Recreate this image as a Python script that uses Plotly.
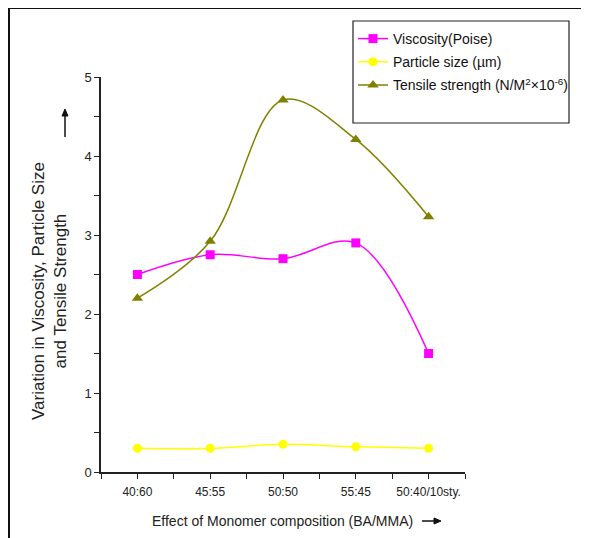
import math
import plotly.graph_objects as go

categories = ["40:60", "45:55", "50:50", "55:45", "50:40/10sty."]
viscosity = [2.5, 2.75, 2.7, 2.9, 1.5]
particle_size = [0.30, 0.30, 0.35, 0.32, 0.30]
tensile = [2.2, 2.92, 4.71, 4.21, 3.23]
y_ticks = [0, 1, 2, 3, 4, 5]

# target plot area in screenshot pixels; page body adds an 8px offset
W, H = 589, 538
OFF = 8
L, R, T, B = 101, 465, 77, 472
pw, ph = R - L, B - T

def px(x):
    return (x - L) / pw

def py(y):
    return (B - y) / ph

xpos = list(range(len(categories)))
FONT = "Liberation Sans, Arial"

fig = go.Figure()
fig.add_trace(go.Scatter(
    x=xpos, y=viscosity, name="Viscosity(Poise)", mode="lines+markers",
    line=dict(color="#FF00FF", width=1.5, shape="spline", smoothing=1),
    marker=dict(symbol="square", size=9, color="#FF00FF"), legendgroup="a"))
fig.add_trace(go.Scatter(
    x=xpos, y=particle_size, name="Particle size (µm)", mode="lines+markers",
    line=dict(color="#FFFF00", width=1.5, shape="spline", smoothing=1),
    marker=dict(symbol="circle", size=9, color="#FFFF00"), legendgroup="b"))
fig.add_trace(go.Scatter(
    x=xpos, y=tensile, name="Tensile strength (N/M<sup>2</sup>×10<sup>-6</sup>)",
    mode="lines+markers",
    line=dict(color="#808000", width=1.5, shape="spline", smoothing=1),
    marker=dict(symbol="triangle-up", size=10, color="#808000"), legendgroup="c"))

fig.update_layout(
    width=W, height=H,
    margin=dict(l=L - OFF, r=W - (R - OFF), t=T - OFF, b=H - (B - OFF),
                autoexpand=False),
    paper_bgcolor="white", plot_bgcolor="white",
    font=dict(family=FONT, size=12, color="#222"),
    xaxis=dict(range=[-0.5, 4.5], tickvals=xpos, ticktext=categories,
               showgrid=False, zeroline=False, showline=True, linecolor="#222",
               linewidth=1.5, ticks="outside", ticklen=5, tickcolor="#222",
               tickfont=dict(size=12), automargin=False, ticklabelstandoff=3,
               minor=dict(tick0=0.5, dtick=1, ticks="outside", ticklen=5,
                          tickcolor="#222", showgrid=False)),
    yaxis=dict(range=[0, 5], tickvals=y_ticks, showgrid=False, zeroline=False,
               showline=True, linecolor="#222", linewidth=1.5, ticks="outside",
               ticklen=5, tickcolor="#222", tickfont=dict(size=13),
               automargin=False,
               minor=dict(dtick=0.5, ticks="outside", ticklen=5,
                          tickcolor="#222", showgrid=False)),
    legend=dict(x=px(353), y=py(23), xanchor="left", yanchor="top",
                bgcolor="rgba(0,0,0,0)", borderwidth=0,
                font=dict(size=14, family=FONT, color="#111"),
                traceorder="grouped", tracegroupgap=2),
    showlegend=True,
)

def arrow_shapes(x0, y0, x1, y1):
    # line from (x0,y0) to head at (x1,y1), pixel coords
    dx, dy = x1 - x0, y1 - y0
    n = math.hypot(dx, dy)
    ux, uy = dx / n, dy / n
    hl, hw = 7, 3
    bx, by = x1 - ux * hl, y1 - uy * hl
    p1 = (bx - uy * hw, by + ux * hw)
    p2 = (bx + uy * hw, by - ux * hw)
    path = "M {} {} L {} {} L {} {} Z".format(
        px(x1), py(y1), px(p1[0]), py(p1[1]), px(p2[0]), py(p2[1]))
    return [
        dict(type="line", xref="paper", yref="paper", x0=px(x0), y0=py(y0),
             x1=px(bx), y1=py(by), line=dict(color="#111", width=1.5)),
        dict(type="path", xref="paper", yref="paper", path=path,
             fillcolor="#111", line=dict(color="#111", width=1)),
    ]

shapes = [
    # legend box
    dict(type="rect", xref="paper", yref="paper", x0=px(353), x1=px(569),
         y0=py(123), y1=py(21), line=dict(color="#222", width=1.2)),
    # outer frame
    dict(type="line", xref="paper", yref="paper", x0=px(9), x1=px(9),
         y0=py(8), y1=py(560), line=dict(color="#111", width=2)),
    dict(type="line", xref="paper", yref="paper", x0=px(9), x1=px(620),
         y0=py(8), y1=py(8), line=dict(color="#111", width=2)),
]
shapes += arrow_shapes(65, 137, 65, 109)
shapes += arrow_shapes(422, 521, 441, 521)
fig.update_layout(shapes=shapes)

annotations = [
    dict(text="Variation in Viscosity, Particle Size<br>and Tensile Strength",
         xref="paper", yref="paper", x=px(49), y=py(291), textangle=-90,
         showarrow=False, font=dict(size=17, family=FONT, color="#222"),
         xanchor="center", yanchor="middle"),
    dict(text="Effect of Monomer composition (BA/MMA)", xref="paper",
         yref="paper", x=px(282), y=py(521), showarrow=False,
         font=dict(size=14, family=FONT, color="#222"),
         xanchor="center", yanchor="middle"),
]
fig.update_layout(annotations=annotations)

fig.write_html("out.html")
